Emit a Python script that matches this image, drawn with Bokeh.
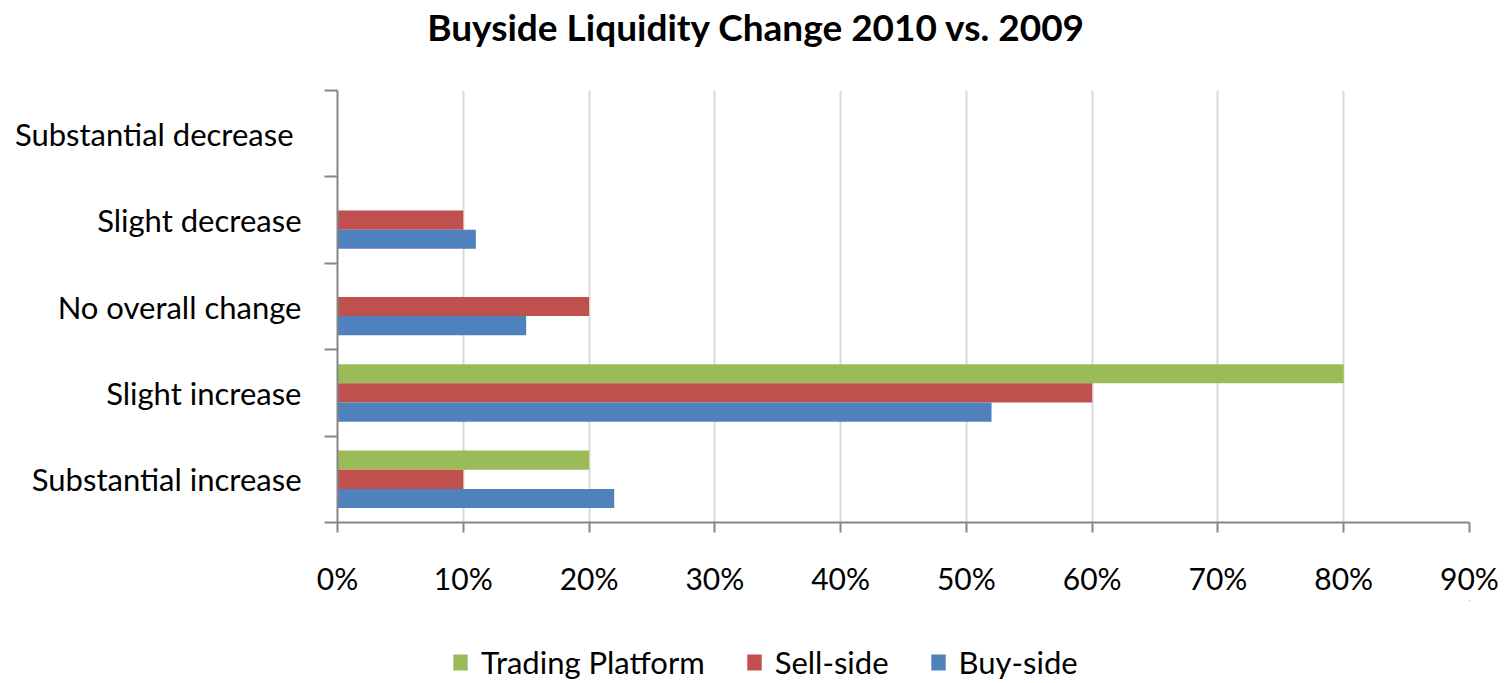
from bokeh.plotting import figure
from bokeh.layouts import column
from bokeh.models import (Range1d, FixedTicker, PrintfTickFormatter, Legend, LegendItem,
                          ColumnDataSource, Label)
from bokeh.transform import dodge
from bokeh.embed import file_html
from bokeh.resources import INLINE

title_text = "Buyside Liquidity Change 2010 vs. 2009"
categories = ["Substantial increase", "Slight increase", "No overall change",
              "Slight decrease", "Substantial  decrease"]
buy_side = [22, 52, 15, 11, 0]
sell_side = [10, 60, 20, 10, 0]
trading_platform = [20, 80, 0, 0, 0]
x_ticks = [0, 10, 20, 30, 40, 50, 60, 70, 80, 90]
series_names = ["Trading Platform", "Sell-side", "Buy-side"]

FONT = "Lato"
GREEN, RED, BLUE = "#9BBB59", "#C0504D", "#4F81BD"
AXIS = "#868686"
W = 1500

n = len(categories)
ypos = [float(i) + 0.5 for i in range(n)]
src = ColumnDataSource(dict(y=ypos, buy=buy_side, sell=sell_side, tp=trading_platform))
bw = 0.222
cols = ["tp", "sell", "buy"]
offsets = [bw, 0, -bw]
colors = [GREEN, RED, BLUE]

# ---- title strip ----
tf = figure(width=W, height=52, output_backend="svg", toolbar_location=None,
            x_range=Range1d(0, 1), y_range=Range1d(0, 1),
            x_axis_type=None, y_axis_type=None,
            min_border_left=0, min_border_right=0, min_border_top=0, min_border_bottom=0)
tf.grid.visible = False
tf.outline_line_color = None
tf.add_layout(Label(x=419, y=26, x_units="screen", y_units="screen", text=title_text,
                    text_align="center", text_baseline="middle", text_font=FONT,
                    text_font_size="37px", text_font_style="bold", text_color="#000000"))

# ---- main chart ----
p = figure(width=W, height=548, output_backend="svg", toolbar_location=None,
           x_range=Range1d(0, 90), y_range=Range1d(0, n),
           min_border_left=337, min_border_right=31, min_border_top=38, min_border_bottom=78)
p.outline_line_color = None

for c, off, color in zip(cols, offsets, colors):
    p.hbar(y=dodge("y", off, range=p.y_range), right=c, left=0, height=bw,
           source=src, fill_color=color, line_color=None)

xa = p.xaxis[0]
xa.ticker = FixedTicker(ticks=x_ticks)
xa.formatter = PrintfTickFormatter(format="%d%%")
xa.axis_line_color = AXIS
xa.axis_line_width = 2
xa.major_tick_line_color = AXIS
xa.major_tick_line_width = 2
xa.major_tick_in = 0
xa.major_tick_out = 10
xa.minor_tick_line_color = None
xa.major_label_text_font = FONT
xa.major_label_text_font_size = "30px"
xa.major_label_text_color = "#000000"
xa.major_label_standoff = 27

# y axis: ticks at category boundaries, labels at category centres
ya = p.yaxis[0]
ya.ticker = FixedTicker(ticks=ypos, minor_ticks=list(range(n + 1)))
ya.major_label_overrides = {y: c for y, c in zip(ypos, categories)}
ya.axis_line_color = AXIS
ya.axis_line_width = 2
ya.major_tick_line_color = None
ya.major_tick_in = 0
ya.major_tick_out = 0
ya.minor_tick_line_color = AXIS
ya.minor_tick_line_width = 2
ya.minor_tick_in = 0
ya.minor_tick_out = 13
ya.major_label_text_font = FONT
ya.major_label_text_font_size = "31px"
ya.major_label_text_color = "#000000"
ya.major_label_standoff = 23

p.xgrid.ticker = FixedTicker(ticks=x_ticks)
p.xgrid.grid_line_color = "#D9D9D9"
p.xgrid.grid_line_width = 2
p.ygrid.grid_line_color = None

# ---- legend strip (same series, kept out of view so only the legend shows) ----
lg = figure(width=W, height=83, output_backend="svg", toolbar_location=None,
            x_range=Range1d(-200, -100), y_range=Range1d(-200, -100),
            x_axis_type=None, y_axis_type=None,
            min_border_left=0, min_border_right=0, min_border_top=0, min_border_bottom=0)
lg.grid.visible = False
lg.outline_line_color = None
items = []
for name, c, color in zip(series_names, cols, colors):
    r = lg.hbar(y="y", right=c, left=0, height=bw, source=src,
                fill_color=color, line_color=None)
    items.append(LegendItem(label=name, renderers=[r]))
legend = Legend(items=items, orientation="horizontal", location=(114, 2))
legend.label_text_font = FONT
legend.label_text_font_size = "31px"
legend.label_text_color = "#000000"
legend.glyph_width = 18
legend.glyph_height = 20
legend.label_standoff = 12
legend.spacing = 40
legend.border_line_color = None
legend.background_fill_alpha = 0
legend.padding = 0
legend.margin = 0
lg.add_layout(legend, "center")

open("out.html", "w").write(file_html(column(tf, p, lg), INLINE))
